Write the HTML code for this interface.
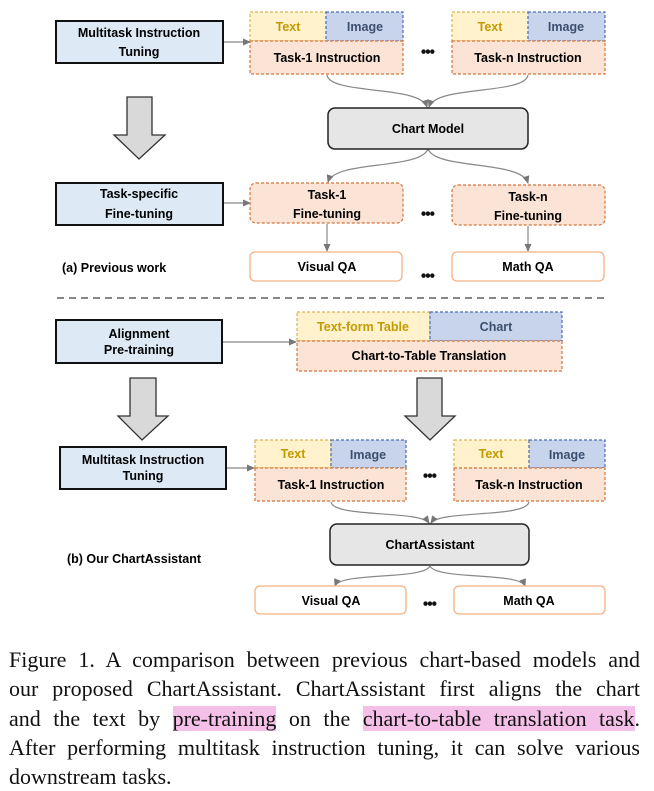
<!DOCTYPE html>
<html><head><meta charset="utf-8"><style>
body{margin:0;width:654px;height:787px;background:#fff;overflow:hidden;position:relative}
svg{position:absolute;left:0;top:0}
svg text{font-family:"Liberation Sans",sans-serif;font-weight:bold;font-size:12.5px;text-anchor:middle;dominant-baseline:central}
.cap{position:absolute;left:9px;top:645px;width:631px;font-family:"Liberation Serif",serif;font-size:22px;line-height:29.3px;color:#111}
.cap div{text-align:justify;text-align-last:justify;white-space:nowrap}
.cap div.last{text-align-last:left}
.hl{background:#f5c0e8}
</style></head><body>
<svg width="654" height="630" viewBox="0 0 654 630">
<defs><marker id="a" markerWidth="8" markerHeight="8" refX="7" refY="4" orient="auto" markerUnits="userSpaceOnUse"><path d="M0,0.5 L8,4 L0,7.5z" fill="#777"/></marker></defs>
<g stroke="#888" stroke-width="1.2" fill="none">
<path d="M224,42 L250,42" marker-end="url(#a)"/>
<path d="M224,203 L250,203" marker-end="url(#a)"/>
<path d="M327,75 C330,95 420,85 427,107" marker-end="url(#a)"/>
<path d="M528,75 C525,95 436,85 429,107" marker-end="url(#a)"/>
<path d="M428,149 C420,170 335,160 328,182" marker-end="url(#a)"/>
<path d="M428,149 C436,170 521,160 528,183" marker-end="url(#a)"/>
<path d="M327,224 L327,251" marker-end="url(#a)"/>
<path d="M528,226 L528,251" marker-end="url(#a)"/>
<path d="M222,342 L296,342" marker-end="url(#a)"/>
<path d="M226,468 L254,468" marker-end="url(#a)"/>
<path d="M331,502 C334,518 420,510 429,523" marker-end="url(#a)"/>
<path d="M529,502 C526,518 440,510 431,523" marker-end="url(#a)"/>
<path d="M430,566 C424,580 340,572 335,586" marker-end="url(#a)"/>
<path d="M430,566 C436,580 520,572 525,586" marker-end="url(#a)"/>
</g>
<g fill="#dde9f5" stroke="#111" stroke-width="2">
<rect x="56" y="21" width="167" height="42"/>
<rect x="56" y="183" width="167" height="42"/>
<rect x="56" y="320" width="166" height="43"/>
<rect x="60" y="447" width="166" height="42"/>
</g>
<text x="139" y="33">Multitask Instruction</text><text x="139" y="52">Tuning</text>
<text x="139" y="194">Task-specific</text><text x="139" y="214">Fine-tuning</text>
<text x="139" y="334" font-size="12">Alignment</text><text x="139" y="350" font-size="12">Pre-training</text>
<text x="143" y="460" font-size="12">Multitask Instruction</text><text x="143" y="476" font-size="12">Tuning</text>
<g fill="#d9d9d9" stroke="#333" stroke-width="1.3">
<path d="M127,97 L152,97 L152,135 L165,135 L139,159 L114,135 L127,135z"/>
<path d="M130,378 L156,378 L156,416 L168,416 L142,440 L118,416 L130,416z"/>
<path d="M417,378 L442,378 L442,416 L455,416 L430,440 L405,416 L417,416z"/>
</g>
<g stroke-dasharray="3,2" stroke-width="1.2">
<rect x="250" y="12" width="76" height="29" fill="#fff2cc" stroke="#d6b656"/>
<rect x="326" y="12" width="77" height="29" fill="#c7d4ec" stroke="#4a6fb5"/>
<rect x="250" y="41" width="153" height="33" fill="#fbe3d6" stroke="#d4743a"/>
<rect x="452" y="12" width="76" height="29" fill="#fff2cc" stroke="#d6b656"/>
<rect x="528" y="12" width="77" height="29" fill="#c7d4ec" stroke="#4a6fb5"/>
<rect x="452" y="41" width="153" height="33" fill="#fbe3d6" stroke="#d4743a"/>
<rect x="250" y="183" width="153" height="40" rx="6" fill="#fbe3d6" stroke="#d4743a"/>
<rect x="452" y="185" width="153" height="40" rx="6" fill="#fbe3d6" stroke="#d4743a"/>
<rect x="297" y="312" width="133" height="29" fill="#fff2cc" stroke="#d6b656"/>
<rect x="430" y="312" width="132" height="29" fill="#c7d4ec" stroke="#4a6fb5"/>
<rect x="297" y="341" width="265" height="30" fill="#fbe3d6" stroke="#d4743a"/>
<rect x="255" y="440" width="76" height="28" fill="#fff2cc" stroke="#d6b656"/>
<rect x="331" y="440" width="75" height="28" fill="#c7d4ec" stroke="#4a6fb5"/>
<rect x="255" y="468" width="151" height="33" fill="#fbe3d6" stroke="#d4743a"/>
<rect x="454" y="440" width="75" height="28" fill="#fff2cc" stroke="#d6b656"/>
<rect x="529" y="440" width="76" height="28" fill="#c7d4ec" stroke="#4a6fb5"/>
<rect x="454" y="468" width="151" height="33" fill="#fbe3d6" stroke="#d4743a"/>
</g>
<g fill="#c49a00"><text x="288" y="27">Text</text><text x="490" y="27">Text</text><text x="363" y="327" font-size="12">Text-form Table</text><text x="293" y="454" font-size="12">Text</text><text x="491" y="454" font-size="12">Text</text></g>
<g fill="#3d4f6e"><text x="365" y="27">Image</text><text x="566" y="27">Image</text><text x="496" y="327" font-size="12">Chart</text><text x="368" y="455" font-size="12">Image</text><text x="567" y="455" font-size="12">Image</text></g>
<text x="327" y="58">Task-1 Instruction</text><text x="528" y="58">Task-n Instruction</text>
<text x="327" y="195">Task-1</text><text x="327" y="214">Fine-tuning</text>
<text x="528" y="197">Task-n</text><text x="528" y="216">Fine-tuning</text>
<text x="429" y="356" font-size="12">Chart-to-Table Translation</text>
<text x="331" y="485" font-size="12">Task-1 Instruction</text><text x="529" y="485" font-size="12">Task-n Instruction</text>
<rect x="328" y="108" width="200" height="41" rx="7" fill="#e6e6e6" stroke="#222" stroke-width="1.5"/>
<text x="428" y="129">Chart Model</text>
<rect x="330" y="524" width="199" height="41" rx="7" fill="#e6e6e6" stroke="#222" stroke-width="1.5"/>
<text x="430" y="545" font-size="12">ChartAssistant</text>
<g fill="#fff" stroke="#f4b183" stroke-width="1.3">
<rect x="250" y="252" width="152" height="29" rx="5"/><rect x="452" y="252" width="152" height="29" rx="5"/>
<rect x="255" y="586" width="151" height="28" rx="5"/><rect x="454" y="586" width="151" height="28" rx="5"/>
</g>
<text x="327" y="267">Visual QA</text><text x="528" y="267">Math QA</text>
<text x="331" y="601">Visual QA</text><text x="529" y="601" font-size="12">Math QA</text>
<g fill="#111" stroke="#111" stroke-width="0.8"><text x="428" y="52" font-size="16">•••</text><text x="428" y="214" font-size="16">•••</text><text x="428" y="276" font-size="16">•••</text><text x="430" y="476" font-size="14">•••</text><text x="430" y="604" font-size="14">•••</text></g>
<text x="62" y="268" style="text-anchor:start" font-size="12.5">(a) Previous work</text>
<text x="67" y="559" style="text-anchor:start" font-size="12.5">(b) Our ChartAssistant</text>
<line x1="57" y1="298" x2="605" y2="298" stroke="#888" stroke-width="2" stroke-dasharray="7,5"/>
</svg>
<div class="cap">
<div>Figure 1. A comparison between previous chart-based models and</div>
<div>our proposed ChartAssistant. ChartAssistant first aligns the chart</div>
<div>and the text by <span class="hl">pre-training</span> on the <span class="hl">chart-to-table translation task</span>.</div>
<div>After performing multitask instruction tuning, it can solve various</div>
<div class="last">downstream tasks.</div>
</div>
</body></html>
